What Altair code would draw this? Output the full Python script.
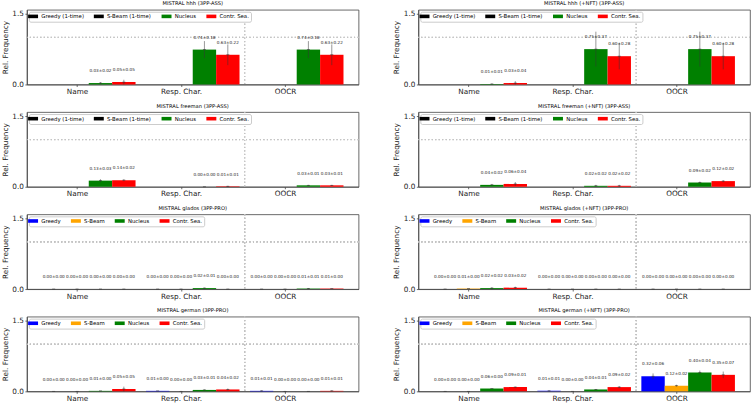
import altair as alt
import pandas as pd

FONT = "DejaVu Sans"

categories = ["Name", "Resp. Char.", "OOCR"]
series_pro = ["Greedy", "S-Beam", "Nucleus", "Contr. Sea."]
series_ass = ["Greedy (1-time)", "S-Beam (1-time)", "Nucleus", "Contr. Sea."]
colors_pro = ["blue", "orange", "green", "red"]
colors_ass = ["black", "black", "green", "red"]

# mean and std per category (Name, Resp. Char., OOCR) for every decoding method
hhh_mean = {"Nucleus": [0.03, 0.74, 0.74], "Contr. Sea.": [0.05, 0.63, 0.63]}
hhh_std = {"Nucleus": [0.02, 0.18, 0.18], "Contr. Sea.": [0.05, 0.22, 0.22]}

hhh_nft_mean = {"Nucleus": [0.01, 0.75, 0.75], "Contr. Sea.": [0.03, 0.60, 0.60]}
hhh_nft_std = {"Nucleus": [0.01, 0.37, 0.37], "Contr. Sea.": [0.04, 0.28, 0.28]}

freeman_mean = {"Nucleus": [0.13, 0.00, 0.03], "Contr. Sea.": [0.14, 0.01, 0.03]}
freeman_std = {"Nucleus": [0.03, 0.00, 0.01], "Contr. Sea.": [0.02, 0.01, 0.01]}

freeman_nft_mean = {"Nucleus": [0.04, 0.02, 0.09], "Contr. Sea.": [0.06, 0.02, 0.12]}
freeman_nft_std = {"Nucleus": [0.02, 0.02, 0.02], "Contr. Sea.": [0.04, 0.02, 0.02]}

glados_mean = {"Greedy": [0.00, 0.00, 0.00], "S-Beam": [0.00, 0.00, 0.00],
               "Nucleus": [0.00, 0.02, 0.01], "Contr. Sea.": [0.00, 0.00, 0.01]}
glados_std = {"Greedy": [0.00, 0.00, 0.00], "S-Beam": [0.00, 0.00, 0.00],
              "Nucleus": [0.00, 0.01, 0.01], "Contr. Sea.": [0.00, 0.00, 0.00]}

glados_nft_mean = {"Greedy": [0.00, 0.00, 0.00], "S-Beam": [0.01, 0.00, 0.00],
                   "Nucleus": [0.02, 0.00, 0.00], "Contr. Sea.": [0.03, 0.00, 0.00]}
glados_nft_std = {"Greedy": [0.00, 0.00, 0.00], "S-Beam": [0.00, 0.00, 0.00],
                  "Nucleus": [0.02, 0.00, 0.00], "Contr. Sea.": [0.02, 0.00, 0.00]}

german_mean = {"Greedy": [0.00, 0.01, 0.01], "S-Beam": [0.00, 0.00, 0.00],
               "Nucleus": [0.01, 0.03, 0.00], "Contr. Sea.": [0.05, 0.04, 0.01]}
german_std = {"Greedy": [0.00, 0.00, 0.01], "S-Beam": [0.00, 0.00, 0.00],
              "Nucleus": [0.00, 0.01, 0.00], "Contr. Sea.": [0.05, 0.02, 0.01]}

german_nft_mean = {"Greedy": [0.00, 0.01, 0.32], "S-Beam": [0.00, 0.00, 0.12],
                   "Nucleus": [0.06, 0.04, 0.40], "Contr. Sea.": [0.09, 0.09, 0.35]}
german_nft_std = {"Greedy": [0.00, 0.01, 0.06], "S-Beam": [0.00, 0.00, 0.02],
                  "Nucleus": [0.00, 0.01, 0.04], "Contr. Sea.": [0.01, 0.02, 0.07]}

panels = [
    ("MISTRAL hhh (3PP-ASS)", "ASS", hhh_mean, hhh_std),
    ("MISTRAL hhh (+NFT) (3PP-ASS)", "ASS", hhh_nft_mean, hhh_nft_std),
    ("MISTRAL freeman (3PP-ASS)", "ASS", freeman_mean, freeman_std),
    ("MISTRAL freeman (+NFT) (3PP-ASS)", "ASS", freeman_nft_mean, freeman_nft_std),
    ("MISTRAL glados (3PP-PRO)", "PRO", glados_mean, glados_std),
    ("MISTRAL glados (+NFT) (3PP-PRO)", "PRO", glados_nft_mean, glados_nft_std),
    ("MISTRAL german (3PP-PRO)", "PRO", german_mean, german_std),
    ("MISTRAL german (+NFT) (3PP-PRO)", "PRO", german_nft_mean, german_nft_std),
]

BAR_W = 0.225          # bar width in category units
LABEL_LIFT = 0.25      # value labels sit this far above the mean
n_cat = len(categories)
x_lo = -1.5 * BAR_W
x_hi = (n_cat - 1) + 2.5 * BAR_W
x_pad = 0.05 * (x_hi - x_lo)
x_domain = [x_lo - x_pad, x_hi + x_pad]
sep_x = (n_cat - 1.5) + BAR_W / 2   # divider before the OOCR group

label_expr = " : ".join(
    f"datum.value == {i} ? '{c}'" for i, c in enumerate(categories)
) + " : ''"

PANEL_W = 333
PANEL_H = 75


def make_frame(kind, means, stds):
    names = series_ass if kind == "ASS" else series_pro
    rows = []
    for si, short in enumerate(["Greedy", "S-Beam", "Nucleus", "Contr. Sea."]):
        if short not in means:
            continue
        for ci, cat in enumerate(categories):
            m = means[short][ci]
            s = stds[short][ci]
            cx = ci + (si - 1) * BAR_W
            rows.append({
                "category": cat,
                "series": names[si],
                "mean": m,
                "std": s,
                "x": cx,
                "x0": cx - BAR_W / 2,
                "x1": cx + BAR_W / 2,
                "lo": max(m - s, 0.0),
                "hi": m + s,
                "label": f"{m:.2f}\u00b1{s:.2f}",
                "label_y": m + LABEL_LIFT,
            })
    return pd.DataFrame(rows)


def make_panel(title, kind, means, stds):
    df = make_frame(kind, means, stds)
    names = series_ass if kind == "ASS" else series_pro
    cols = colors_ass if kind == "ASS" else colors_pro

    xscale = alt.Scale(domain=x_domain, nice=False, zero=False)
    yscale = alt.Scale(domain=[0, 1.585], nice=False)
    xaxis = alt.Axis(values=list(range(n_cat)), labelExpr=label_expr, title=None,
                     grid=False, labelFontSize=7.3, tickSize=2, labelPadding=1)
    yaxis = alt.Axis(values=[0, 0.5, 1.0, 1.5], format=".1f", title="Rel. Frequency",
                     grid=False, labelFontSize=7.3, tickSize=2, labelPadding=1.5,
                     titleFontSize=7.3, titlePadding=2.5, titleFontWeight="normal")

    base = alt.Chart(df)

    hline = base.mark_rule(color="#c4c4c4", strokeDash=[1, 2.5], strokeWidth=0.7).encode(
        y=alt.datum(1.0, scale=yscale, axis=yaxis))
    vline = base.mark_rule(color="#c4c4c4", strokeDash=[1, 2.5], strokeWidth=0.7).encode(
        x=alt.datum(sep_x, scale=xscale, axis=xaxis))

    bars = base.mark_rect().encode(
        x=alt.X("x0:Q", scale=xscale, axis=xaxis),
        x2="x1:Q",
        y=alt.Y("mean:Q", scale=yscale, axis=yaxis),
        y2=alt.datum(0),
        color=alt.Color(
            "series:N",
            scale=alt.Scale(domain=names, range=cols),
            legend=alt.Legend(
                title=None, orient="top-left", direction="horizontal", offset=2,
                symbolType="M-2.5,-0.9H2.5V0.9H-2.5Z", symbolSize=16,
                symbolStrokeWidth=0, symbolOpacity=1,
                labelFontSize=5.4, labelFont=FONT, labelOffset=5.5,
                columnPadding=9, padding=1.5, rowPadding=0, labelLimit=0,
                fillColor="white", strokeColor="#cccccc", cornerRadius=1.5,
            ),
        ),
    )
    err = base.mark_rule(color="#333333", strokeWidth=0.6, opacity=0.85).encode(
        x="x:Q", y="lo:Q", y2="hi:Q")
    mids = base.mark_tick(color="#333333", size=3, thickness=0.8, orient="horizontal").encode(
        x="x:Q", y="mean:Q")
    labels = base.mark_text(fontSize=4.2, font=FONT, color="#222222",
                            baseline="middle").encode(
        x="x:Q", y="label_y:Q", text="label:N")

    return alt.layer(hline, vline, bars, err, mids, labels).properties(
        width=PANEL_W, height=PANEL_H,
        title=alt.TitleParams(title, fontSize=5.2, font=FONT, fontWeight="normal",
                              offset=3, color="black"),
    )


charts = [make_panel(*p) for p in panels]
rows = [
    alt.hconcat(charts[i], charts[i + 1], spacing=32)
    .resolve_scale(color="independent").resolve_legend(color="independent")
    for i in range(0, len(charts), 2)
]
chart = (
    alt.vconcat(*rows, spacing=7.7)
    .resolve_scale(color="independent")
    .resolve_legend(color="independent")
    .properties(padding={"left": 0, "top": 0, "right": 0, "bottom": 0})
    .configure(font=FONT)
    .configure_view(stroke="#444444", strokeWidth=0.8)
    .configure_axis(domainColor="#444444", domainWidth=0.8, tickColor="#444444",
                    tickWidth=0.8, labelColor="#222222", titleColor="#222222",
                    labelFont=FONT, titleFont=FONT)
)

chart.save("out.html", embed_options={"renderer": "svg", "actions": False})
